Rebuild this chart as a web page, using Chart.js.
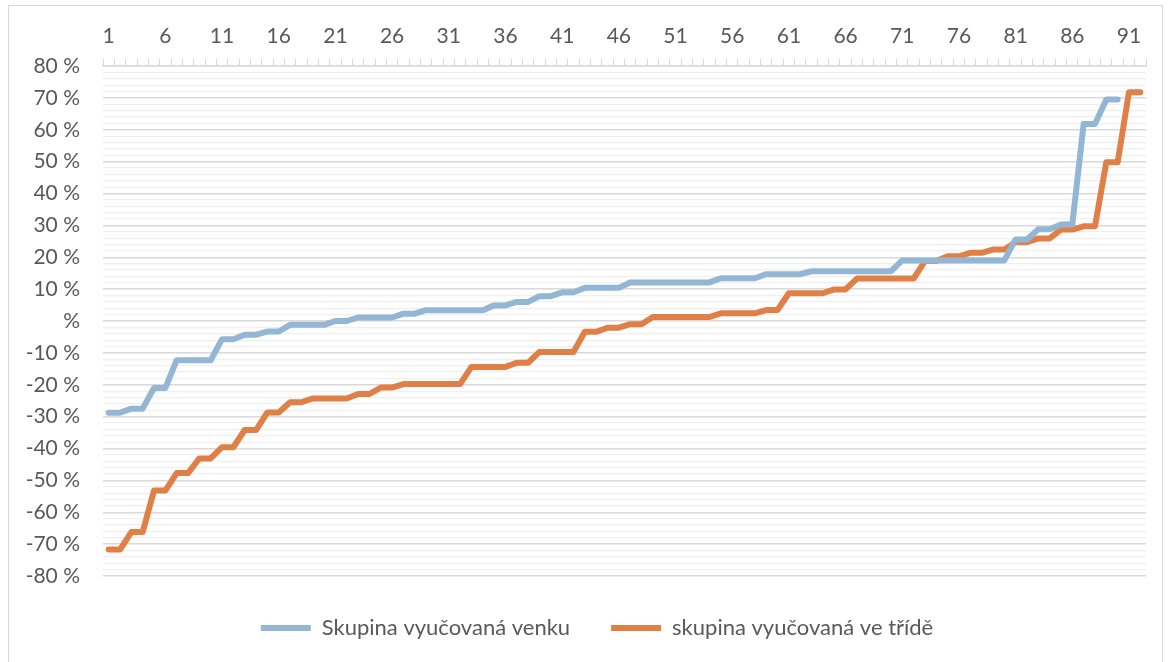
<!DOCTYPE html>
<html>
<head>
<meta charset="utf-8">
<script src="https://cdn.jsdelivr.net/npm/chart.js@4"></script>
<style>
  html, body { margin: 0; padding: 0; background: #fff; }
  #wrap { position: relative; width: 1171px; height: 662px; overflow: hidden; }
  #frame { position: absolute; left: 8px; top: 5px; width: 1155px; height: 700px; border: 1.5px solid #d9d9d9; box-sizing: border-box; }
  canvas { position: absolute; left: 0; top: 0; }
</style>
</head>
<body>
<div id="wrap">
  <div id="frame"></div>
  <canvas id="c" width="1171" height="662"></canvas>
</div>
<script>
// Categories 1..92
const categories = [1,2,3,4,5,6,7,8,9,10,11,12,13,14,15,16,17,18,19,20,21,22,23,24,25,26,27,28,29,30,31,32,33,34,35,36,37,38,39,40,41,42,43,44,45,46,47,48,49,50,51,52,53,54,55,56,57,58,59,60,61,62,63,64,65,66,67,68,69,70,71,72,73,74,75,76,77,78,79,80,81,82,83,84,85,86,87,88,89,90,91,92];

const seriesNames = ["Skupina vyučovaná venku", "skupina vyučovaná ve třídě"];

// Skupina vyučovaná venku (percent), 90 values
const venku = [
  -28.8,-28.8,-27.5,-27.5,-21,-21,-12.3,-12.3,-12.3,-12.3,
  -5.7,-5.7,-4.3,-4.3,-3.3,-3.3,-1.2,-1.2,-1.2,-1.2,
  0,0,1.1,1.1,1.1,1.1,2.3,2.3,3.4,3.4,
  3.4,3.4,3.4,3.4,4.9,4.9,6.0,6.0,7.8,7.8,
  9.0,9.0,10.4,10.4,10.4,10.4,12.1,12.1,12.1,12.1,
  12.1,12.1,12.1,12.1,13.4,13.4,13.4,13.4,14.7,14.7,
  14.7,14.7,15.6,15.6,15.6,15.6,15.6,15.6,15.6,15.6,
  19,19,19,19,19,19,19,19,19,19,
  25.6,25.6,28.8,28.8,30.3,30.3,61.8,61.8,69.5,69.5
];

// skupina vyučovaná ve třídě (percent), 92 values
const veTride = [
  -71.7,-71.7,-66.2,-66.2,-53.2,-53.2,-47.7,-47.7,-43.1,-43.1,
  -39.6,-39.6,-34.2,-34.2,-28.7,-28.7,-25.5,-25.5,-24.3,-24.3,
  -24.3,-24.3,-22.9,-22.9,-20.9,-20.9,-19.8,-19.8,-19.8,-19.8,
  -19.8,-19.8,-14.4,-14.4,-14.4,-14.4,-13.1,-13.1,-9.7,-9.7,
  -9.7,-9.7,-3.4,-3.4,-2.1,-2.1,-1.0,-1.0,1.25,1.25,
  1.25,1.25,1.25,1.25,2.4,2.4,2.4,2.4,3.45,3.45,
  8.7,8.7,8.7,8.7,9.9,9.9,13.3,13.3,13.3,13.3,
  13.3,13.3,18.8,18.8,20.3,20.3,21.4,21.4,22.4,22.4,
  24.7,24.7,25.9,25.9,28.7,28.7,29.7,29.7,49.8,49.8,
  71.8,71.8
];

const yMin = -80, yMax = 80, yStep = 2, yMajor = 10;
const xLabelEvery = 5;

const FONT = "Lato";
const TXT = "#595959";
const LEGEND_SHIFT = 24;

const legendShift = {
  id: 'legendShift',
  afterLayout(chart) {
    if (chart.legend) { chart.legend.left += LEGEND_SHIFT; chart.legend.right += LEGEND_SHIFT; }
  }
};

new Chart(document.getElementById('c'), {
  type: 'line',
  data: {
    labels: categories,
    datasets: [
      { label: seriesNames[0], data: venku, borderColor: '#93B6D5', backgroundColor: '#93B6D5',
        borderWidth: 6, pointRadius: 0, tension: 0, borderCapStyle: 'round', borderJoinStyle: 'round' },
      { label: seriesNames[1], data: veTride, borderColor: '#E08047', backgroundColor: '#E08047',
        borderWidth: 6, pointRadius: 0, tension: 0, borderCapStyle: 'round', borderJoinStyle: 'round' }
    ]
  },
  plugins: [legendShift],
  options: {
    responsive: false,
    animation: false,
    devicePixelRatio: 1,
    layout: { padding: { left: 0, right: 25, top: 0, bottom: 13 } },
    plugins: {
      tooltip: { enabled: false },
      legend: {
        position: 'bottom',
        labels: {
          usePointStyle: true,
          pointStyle: 'line',
          pointStyleWidth: 50,
          boxHeight: 6,
          padding: 41,
          color: TXT,
          font: { family: FONT, size: 22 }
        }
      }
    },
    scales: {
      x: {
        position: 'top',
        offset: true,
        afterFit: (s) => { s.height = 66; },
        grid: { offset: true, drawOnChartArea: false, drawTicks: true, tickLength: 7, color: '#d9d9d9', lineWidth: 1 },
        border: { display: true, color: '#d9d9d9', width: 1.5 },
        ticks: {
          autoSkip: false, maxRotation: 0, padding: 10, color: TXT,
          font: { family: FONT, size: 21 },
          callback: function(v, i) { return i % xLabelEvery === 0 ? String(categories[i]) : ''; }
        }
      },
      y: {
        min: yMin, max: yMax,
        afterFit: (s) => { s.width = 103; },
        border: { display: false },
        grid: {
          drawTicks: false,
          color: (ctx) => (ctx.tick && ctx.tick.value % yMajor === 0) ? '#d9d9d9' : '#efefef',
          lineWidth: (ctx) => (ctx.tick && ctx.tick.value % yMajor === 0) ? 1.5 : 1.2
        },
        ticks: {
          stepSize: yStep, autoSkip: false, padding: 23, color: TXT,
          font: { family: FONT, size: 21 },
          callback: (v) => (v % yMajor === 0) ? (v === 0 ? '%' : v + ' %') : ''
        }
      }
    }
  }
});
</script>
</body>
</html>
